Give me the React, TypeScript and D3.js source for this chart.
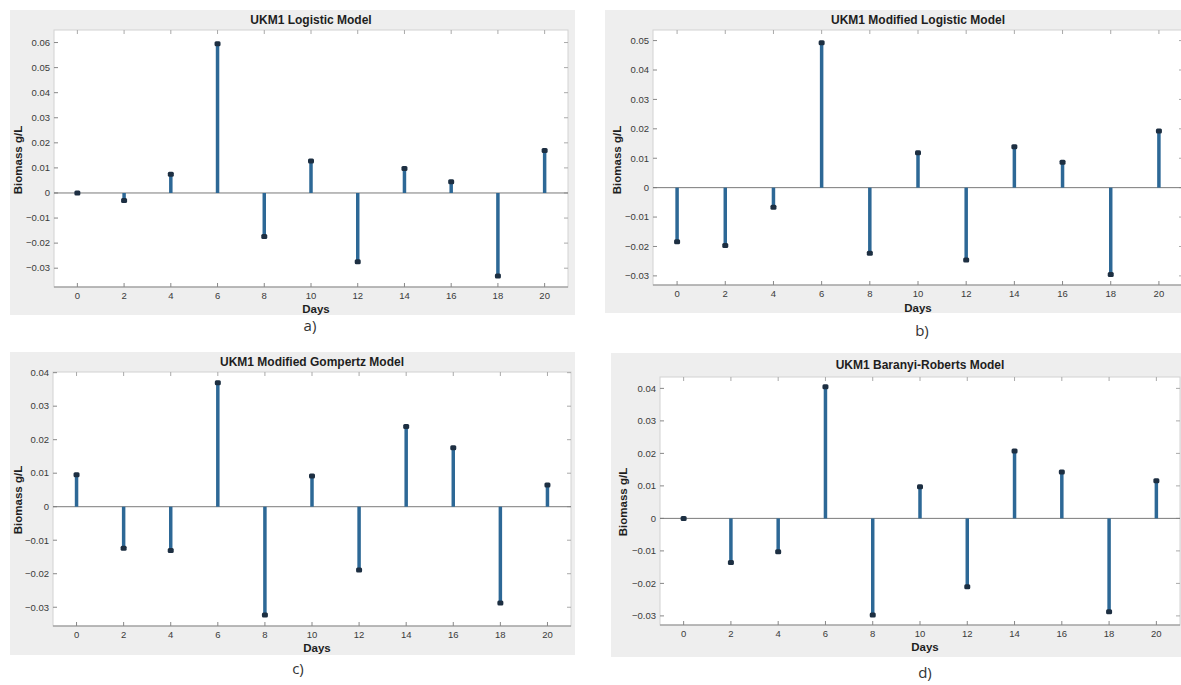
import React from "react";
import * as d3 from "d3";

// Sampling days shared by all four models
const days = [0, 2, 4, 6, 8, 10, 12, 14, 16, 18, 20];

// Residual biomass (g/L) for each growth model
const logistic = [0, -0.003, 0.0075, 0.0595, -0.0174, 0.0128, -0.0274, 0.0098, 0.0045, -0.0331, 0.0169];
const modifiedLogistic = [-0.0184, -0.0197, -0.0067, 0.0493, -0.0223, 0.0119, -0.0246, 0.0139, 0.0086, -0.0295, 0.0193];
const modifiedGompertz = [0.0095, -0.0124, -0.0131, 0.037, -0.0323, 0.0092, -0.0189, 0.0239, 0.0176, -0.0287, 0.0065];
const baranyiRoberts = [0, -0.0136, -0.0103, 0.0405, -0.0297, 0.0097, -0.021, 0.0207, 0.0143, -0.0287, 0.0116];

// Tick values
const xTicks = [0, 2, 4, 6, 8, 10, 12, 14, 16, 18, 20];
const yTicksA = [-0.03, -0.02, -0.01, 0, 0.01, 0.02, 0.03, 0.04, 0.05, 0.06];
const yTicksB = [-0.03, -0.02, -0.01, 0, 0.01, 0.02, 0.03, 0.04, 0.05];
const yTicksC = [-0.03, -0.02, -0.01, 0, 0.01, 0.02, 0.03, 0.04];
const yTicksD = [-0.03, -0.02, -0.01, 0, 0.01, 0.02, 0.03, 0.04];

const titles = [
  "UKM1 Logistic Model",
  "UKM1 Modified Logistic Model",
  "UKM1 Modified Gompertz Model",
  "UKM1 Baranyi-Roberts Model",
];
const captions = ["a)", "b)", "c)", "d)"];

type PanelProps = {
  frame: [number, number, number, number]; // x0, y0, x1, y1 of grey figure area
  plot: [number, number, number, number]; // x0, y0, x1, y1 of axes
  yDomain: [number, number];
  yTicks: number[];
  values: number[];
  title: string;
  caption: string;
  captionPos: [number, number];
  daysPos: [number, number];
  yLabelPos: [number, number];
};

const fmt = (v: number) => (Math.abs(v) < 1e-9 ? "0" : d3.format(".2f")(v));

function Panel(p: PanelProps) {
  const [fx0, fy0, fx1, fy1] = p.frame;
  const [px0, py0, px1, py1] = p.plot;
  const x = d3.scaleLinear().domain([-1, 21]).range([px0, px1]);
  const y = d3.scaleLinear().domain(p.yDomain).range([py1, py0]);
  const y0 = y(0);
  const font = "'Liberation Sans', Arial, sans-serif";
  return (
    <g>
      <rect x={fx0} y={fy0} width={fx1 - fx0} height={fy1 - fy0} fill="#eeeeee" />
      <rect x={px0} y={py0} width={px1 - px0} height={py1 - py0} fill="#ffffff" stroke="#d2d2d2" strokeWidth={1} />
      <text x={(px0 + px1) / 2} y={(fy0 + py0) / 2 + 4} textAnchor="middle" fontFamily={font} fontWeight="bold" fontSize={12} fill="#1e1e1e">
        {p.title}
      </text>
      {/* x ticks */}
      {xTicks.map((t) => (
        <g key={"x" + t}>
          <line x1={x(t)} x2={x(t)} y1={py1} y2={py1 - 4} stroke="#888" />
          <line x1={x(t)} x2={x(t)} y1={py0} y2={py0 + 4} stroke="#aaa" />
          <text x={x(t)} y={py1 + 12} textAnchor="middle" fontFamily={font} fontSize={9.5} fill="#3a3a3a">
            {t}
          </text>
        </g>
      ))}
      {/* y ticks */}
      {p.yTicks.map((t) => (
        <g key={"y" + t}>
          <line x1={px0} x2={px0 + 4} y1={y(t)} y2={y(t)} stroke="#888" />
          <line x1={px1} x2={px1 - 4} y1={y(t)} y2={y(t)} stroke="#aaa" />
          <text x={px0 - 4} y={y(t) + 3.3} textAnchor="end" fontFamily={font} fontSize={9.5} fill="#3a3a3a">
            {fmt(t)}
          </text>
        </g>
      ))}
      {/* bottom axis */}
      <line x1={px0} x2={px1} y1={py1} y2={py1} stroke="#8a8a8a" strokeWidth={1.2} />
      {/* zero baseline */}
      <line x1={px0} x2={px1} y1={y0} y2={y0} stroke="#7a7a7a" strokeWidth={1} />
      {/* stems */}
      {days.map((d, i) => (
        <g key={"s" + d}>
          <line x1={x(d)} x2={x(d)} y1={y0} y2={y(p.values[i])} stroke="#2d6896" strokeWidth={3.5} />
          <rect x={x(d) - 3} y={y(p.values[i]) - 2.5} width={6} height={5} rx={1.5} fill="#1d2f42" />
        </g>
      ))}
      <text x={p.daysPos[0]} y={p.daysPos[1]} textAnchor="middle" fontFamily={font} fontWeight="bold" fontSize={11.5} fill="#1e1e1e">
        Days
      </text>
      <text
        transform={`translate(${p.yLabelPos[0]},${p.yLabelPos[1]}) rotate(-90)`}
        textAnchor="middle"
        fontFamily={font}
        fontWeight="bold"
        fontSize={11.5}
        fill="#1e1e1e"
      >
        Biomass g/L
      </text>
      <text x={p.captionPos[0]} y={p.captionPos[1]} textAnchor="middle" fontFamily="'Open Sans', sans-serif" fontSize={15} fill="#333">
        {p.caption}
      </text>
    </g>
  );
}

export default function App() {
  return (
    <div style={{ position: "absolute", left: 0, top: 0 }}>
      <svg width={1181} height={685} style={{ display: "block", background: "#fff" }}>
        <Panel
          frame={[10, 10, 575, 315]}
          plot={[54, 30, 568, 287]}
          yDomain={[-0.0375, 0.065]}
          yTicks={yTicksA}
          values={logistic}
          title={titles[0]}
          caption={captions[0]}
          captionPos={[310, 331]}
          daysPos={[316, 313]}
          yLabelPos={[22, 160]}
        />
        <Panel
          frame={[605, 10, 1181, 313]}
          plot={[653, 30, 1183, 285]}
          yDomain={[-0.0331, 0.0536]}
          yTicks={yTicksB}
          values={modifiedLogistic}
          title={titles[1]}
          caption={captions[1]}
          captionPos={[922, 336]}
          daysPos={[918, 312]}
          yLabelPos={[621, 160]}
        />
        <Panel
          frame={[10, 352, 575, 655]}
          plot={[53, 372, 571, 626]}
          yDomain={[-0.0356, 0.0402]}
          yTicks={yTicksC}
          values={modifiedGompertz}
          title={titles[2]}
          caption={captions[2]}
          captionPos={[298, 674]}
          daysPos={[317, 652]}
          yLabelPos={[22, 500]}
        />
        <Panel
          frame={[611, 353, 1181, 657]}
          plot={[660, 377, 1180, 625]}
          yDomain={[-0.0328, 0.0435]}
          yTicks={yTicksD}
          values={baranyiRoberts}
          title={titles[3]}
          caption={captions[3]}
          captionPos={[925, 678]}
          daysPos={[925, 651]}
          yLabelPos={[627, 502]}
        />
      </svg>
    </div>
  );
}
